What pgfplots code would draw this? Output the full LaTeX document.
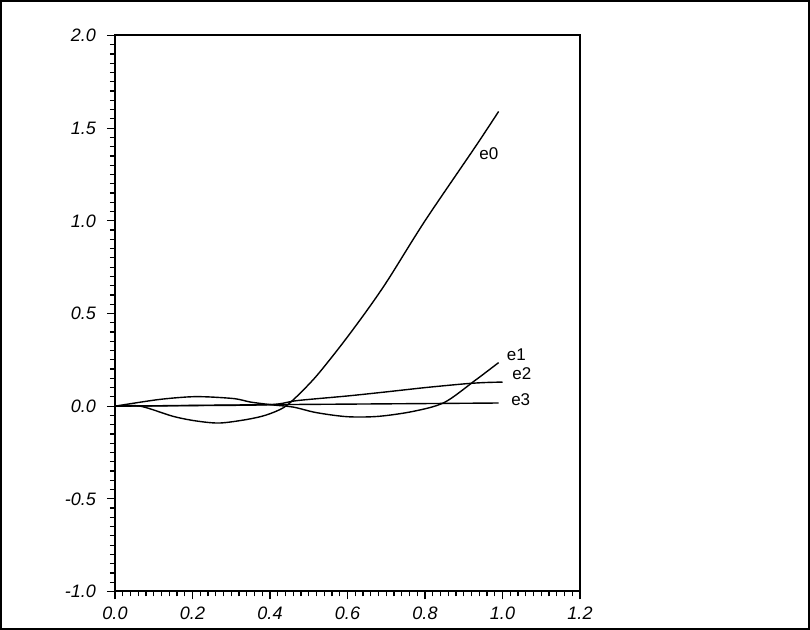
\documentclass[border=0pt]{standalone}
\usepackage{fontspec}
\setmainfont{Liberation Sans}
\usepackage{pgfplots}
\pgfplotsset{compat=1.18}
\begin{document}
\begin{tikzpicture}
\draw[line width=0.8pt] (0.4pt,0.4pt) rectangle (404.6pt,314.6pt);
\begin{axis}[
  at={(57.5pt,19.25pt)}, anchor=south west,
  width=232.5pt, height=278pt, scale only axis,
  xmin=0, xmax=1.2, ymin=-1, ymax=2,
  xtick={0,0.2,0.4,0.6,0.8,1.0,1.2},
  ytick={-1,-0.5,0,0.5,1,1.5,2},
  xticklabels={0.0,0.2,0.4,0.6,0.8,1.0,1.2},
  yticklabels={-1.0,-0.5,0.0,0.5,1.0,1.5,2.0},
  minor x tick num=9, minor y tick num=9,
  xtick pos=lower, ytick pos=lower,
  tick align=outside,
  major tick length=4pt, minor tick length=2.5pt,
  axis line style={line width=1pt},
  tick style={line width=0.6pt, black},
  ticklabel style={font=\fontsize{9}{10}\selectfont\itshape},
  yticklabel style={xshift=-2pt},
  clip=false,
]
% e0
\addplot[black, line width=0.7pt, smooth] coordinates {
  (0,0) (0.065,0) (0.15,-0.055) (0.21,-0.08) (0.27,-0.091) (0.34,-0.072)
  (0.39,-0.048) (0.435,-0.008) (0.47,0.054) (0.52,0.163) (0.584,0.33)
  (0.648,0.51) (0.704,0.68) (0.80,1.0) (0.93,1.40) (0.99,1.59)
};
% e1
\addplot[black, line width=0.7pt, smooth] coordinates {
  (0,0) (0.2,0.003) (0.4,0.008) (0.47,0.03) (0.6,0.055) (0.7,0.077)
  (0.8,0.1) (0.9,0.12) (0.95,0.127) (1.0,0.13)
};
% e2
\addplot[black, line width=0.7pt, smooth] coordinates {
  (0,0) (0.11,0.035) (0.19,0.05) (0.24,0.05) (0.31,0.04) (0.35,0.022)
  (0.41,0.006) (0.46,-0.005) (0.52,-0.035) (0.6,-0.057) (0.68,-0.055)
  (0.77,-0.028) (0.85,0.02) (0.93,0.14) (0.99,0.235)
};
% e3
\addplot[black, line width=0.7pt, smooth] coordinates {
  (0,0) (0.2,0.004) (0.4,0.008) (0.6,0.011) (0.8,0.014) (0.99,0.017)
};
\node[font=\fontsize{8.5}{10}\selectfont] at (axis cs:0.965,1.36) {e0};
\node[font=\fontsize{8.5}{10}\selectfont] at (axis cs:1.036,0.28) {e1};
\node[font=\fontsize{8.5}{10}\selectfont] at (axis cs:1.05,0.174) {e2};
\node[font=\fontsize{8.5}{10}\selectfont] at (axis cs:1.047,0.035) {e3};
\end{axis}
\end{tikzpicture}
\end{document}
